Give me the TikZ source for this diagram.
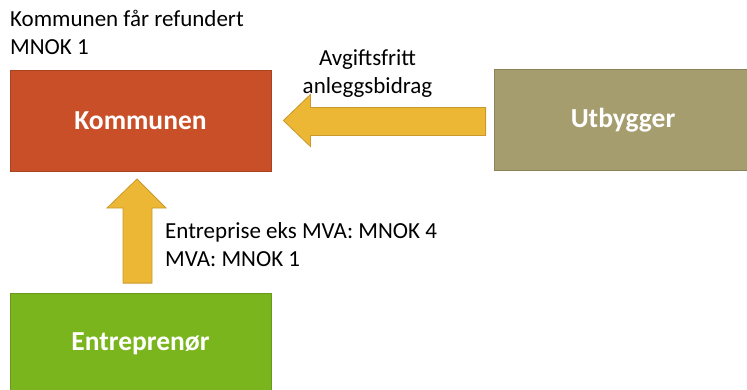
\documentclass[tikz,border=0pt]{standalone}
\usepackage{fontspec}
\setmainfont{Carlito}
\definecolor{komm}{HTML}{C84F28}
\definecolor{kommline}{HTML}{A8421F}
\definecolor{utb}{HTML}{A59D6E}
\definecolor{utbline}{HTML}{8A835A}
\definecolor{entr}{HTML}{7AB51D}
\definecolor{entrline}{HTML}{68991A}
\definecolor{flow}{HTML}{EBB735}
\definecolor{flowline}{HTML}{C99A2B}
\tikzset{
  party/.style={draw=#1line, line width=0.8pt, fill=#1, minimum height=101pt,
    text=white, font=\fontsize{27.5}{30}\selectfont\bfseries, inner sep=0pt},
  note/.style={font=\fontsize{23}{27.5}\selectfont, inner sep=0pt, text=black},
  flowarrow/.style={fill=flow, draw=flowline, line width=0.8pt, line join=miter}
}
\begin{document}
\begin{tikzpicture}[x=1pt,y=-1pt]
\useasboundingbox (0,0) rectangle (747,389);

% the three parties
\node[party=komm, minimum width=261pt] (komm) at (140.5,120.5) {Kommunen};
\node[party=utb, minimum width=258pt] (utb) at (623,120) {Utbygger};
\node[party=entr, minimum width=261pt] (entr) at (140.5,344) {Entreprenør};

% block arrow from Utbygger to Kommunen
\coordinate (lt) at ([xshift=12pt]komm.east);
\coordinate (lb) at ([xshift=-8pt]utb.west);
\draw[flowarrow] (lt) -- ++(27,-26) -- ++(0,13) -- ([yshift=13pt]lb |- lt)
  -- ([yshift=-15pt]lb |- lt) -- ([xshift=27pt,yshift=-15pt]lt)
  -- ++(0,11) -- cycle;

% block arrow from Entreprenør to Kommunen
\coordinate (ut) at (137,179);
\coordinate (ub) at ([yshift=10pt]entr.north -| ut);
\draw[flowarrow] (ut) -- ++(29,29) -- ++(-14,0) -- ([xshift=15pt]ub)
  -- ([xshift=-14pt]ub) -- ([xshift=-14pt,yshift=-29pt]ut)
  -- ++(-16,0) -- cycle;

% labels
\node[note, anchor=base west, align=left] (refund) at (10,54)
  {Kommunen får refundert\\MNOK 1};
\node[note, anchor=base, align=center] (bidrag) at (367.5,93)
  {Avgiftsfritt\\anleggsbidrag};
\node[note, anchor=base west, align=left] (entreprise) at (165,266)
  {Entreprise eks MVA: MNOK 4\\MVA: MNOK 1};
\end{tikzpicture}
\end{document}
